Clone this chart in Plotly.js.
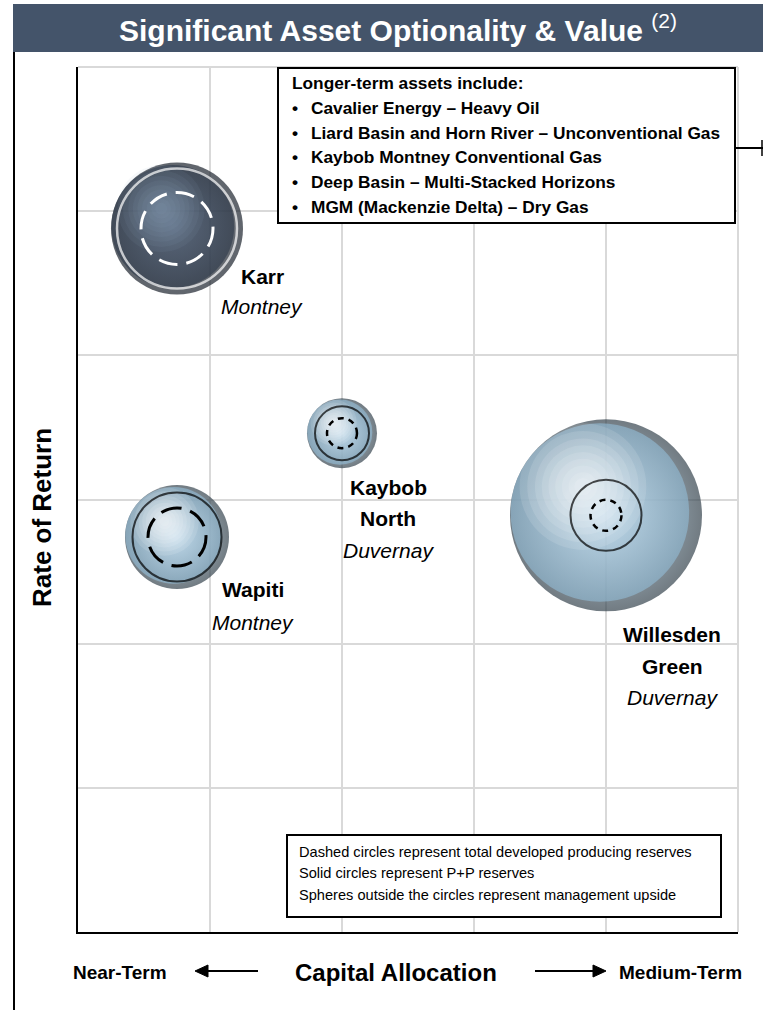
<!DOCTYPE html>
<html>
<head>
<meta charset="utf-8">
<script src="https://cdn.plot.ly/plotly-3.0.1.min.js"></script>
<style>
  html, body { margin: 0; padding: 0; background: #ffffff; }
  #chart { width: 763px; height: 1010px; }
</style>
</head>
<body>
<div id="chart"></div>
<script>
// ---------------- DATA ----------------
const assets = ['Karr', 'Kaybob North', 'Wapiti', 'Willesden Green'];
const plays = ['Montney', 'Duvernay', 'Montney', 'Duvernay'];
const capitalAllocation = [0.75, 2.0, 0.75, 4.0];   // x: near-term (0) -> medium-term (5)
const rateOfReturn = [4.88, 3.46, 2.74, 2.89];       // y
const upsideSize = [132, 70, 104, 192];              // sphere: management upside
const ppReserves = [120, 54, 89, 71];                // solid circle: P+P reserves
const pdpReserves = [72, 30, 58, 31];                // dashed circle: total developed producing
const longerTermTitle = 'Longer-term assets include:';
const longerTermAssets = [
  'Cavalier Energy \u2013 Heavy Oil',
  'Liard Basin and Horn River \u2013 Unconventional Gas',
  'Kaybob Montney Conventional Gas',
  'Deep Basin \u2013 Multi-Stacked Horizons',
  'MGM (Mackenzie Delta) \u2013 Dry Gas'
];
const legendNotes = [
  'Dashed circles represent total developed producing reserves',
  'Solid circles represent P+P reserves',
  'Spheres outside the circles represent management upside'
];

// ---------------- LAYOUT GEOMETRY ----------------
const W = 763, H = 1010;
const M = { l: 78, r: 25, t: 67, b: 78 };
const PW = W - M.l - M.r, PH = H - M.t - M.b;
const XR = [0, 5], YR = [0, 6];
const pxX = PW / (XR[1] - XR[0]), pxY = PH / (YR[1] - YR[0]);
const FONT = 'Liberation Sans, Arial, Helvetica, sans-serif';
const px = v => (v - M.l) / PW;
const py = v => (M.t + PH - v) / PH;

// styles (radial gradient: marker.color = edge, gradient.color = centre)
const dark = [true, false, false, false];
const rimEdge = dark.map(d => d ? '#1c232d' : '#35434d');
const rimCentre = dark.map(d => d ? '#3a4658' : '#a3c5da');
const bodyEdge = dark.map(d => d ? '#333e4e' : '#8fb5cd');
const bodyCentre = dark.map(d => d ? '#4d5d74' : '#c2dbec');
const hiColor = dark.map(d => d ? 'rgba(150,168,192,0.12)' : 'rgba(255,255,255,0.17)');
const ringColor = dark.map(d => d ? '#ffffff' : '#000000');
const ringWidth = dark.map(d => d ? 2.5 : 2);
const dashPattern = ['19px,9px', '6px,5px', '21px,9px', '6px,5px'];
const dashWidth = [3, 2.5, 3, 2.5];

const traces = [
  { // shaded rim
    type: 'scatter', mode: 'markers', x: capitalAllocation, y: rateOfReturn,
    hoverinfo: 'skip', showlegend: false,
    marker: { size: upsideSize, color: rimEdge, gradient: { type: 'radial', color: rimCentre }, line: { width: 0 } }
  },
  { // body
    type: 'scatter', mode: 'markers',
    x: capitalAllocation.map((v, i) => v - 0.032 * upsideSize[i] / pxX),
    y: rateOfReturn.map((v, i) => v + 0.015 * upsideSize[i] / pxY),
    hoverinfo: 'skip', showlegend: false,
    marker: { size: upsideSize.map(s => s * 0.93), color: bodyEdge, gradient: { type: 'radial', color: bodyCentre }, line: { width: 0 } }
  }
];
// soft specular highlight built from stacked translucent discs
[0.66, 0.58, 0.5, 0.43, 0.36, 0.29, 0.22, 0.15, 0.09].forEach(f => {
  traces.push({
    type: 'scatter', mode: 'markers',
    x: capitalAllocation.map((v, i) => v - 0.12 * upsideSize[i] / pxX),
    y: rateOfReturn.map((v, i) => v + 0.15 * upsideSize[i] / pxY),
    hoverinfo: 'skip', showlegend: false,
    marker: { size: upsideSize.map(s => s * f), color: hiColor, line: { width: 0 } }
  });
});
traces.push({ // P+P solid circles
  type: 'scatter', mode: 'markers', x: capitalAllocation, y: rateOfReturn,
  text: assets, hoverinfo: 'text', showlegend: false,
  marker: { size: ppReserves, color: 'rgba(0,0,0,0)', line: { color: ringColor, width: ringWidth } }
});

const shapes = [];
// dashed circles (PDP)
assets.forEach((a, i) => {
  const r = pdpReserves[i] / 2;
  shapes.push({
    type: 'circle', xref: 'x', yref: 'y', xsizemode: 'pixel', ysizemode: 'pixel',
    xanchor: capitalAllocation[i], yanchor: rateOfReturn[i],
    x0: -r, x1: r, y0: -r, y1: r,
    line: { color: ringColor[i], width: dashWidth[i], dash: dashPattern[i] }
  });
});
// title bar
shapes.push({ type: 'rect', xref: 'paper', yref: 'paper', x0: px(13), x1: px(763), y0: py(52), y1: py(4),
  fillcolor: '#44546a', line: { width: 0 }, layer: 'below' });
// outer frame left
shapes.push({ type: 'line', xref: 'paper', yref: 'paper', x0: px(14), x1: px(14), y0: py(52), y1: py(1012),
  line: { color: '#000', width: 2 } });
// top & right plot edges (grey)
shapes.push({ type: 'line', xref: 'paper', yref: 'paper', x0: 0, x1: 1, y0: 1, y1: 1, line: { color: '#d9d9d9', width: 2 }, layer: 'below' });
shapes.push({ type: 'line', xref: 'paper', yref: 'paper', x0: 1, x1: 1, y0: 0, y1: 1, line: { color: '#d9d9d9', width: 2 }, layer: 'below' });
// longer-term box
shapes.push({ type: 'rect', xref: 'paper', yref: 'paper', x0: px(278), x1: px(735), y0: py(223), y1: py(68),
  fillcolor: '#ffffff', line: { color: '#000', width: 2 } });
shapes.push({ type: 'line', xref: 'paper', yref: 'paper', x0: px(735), x1: px(764), y0: py(148), y1: py(148),
  line: { color: '#000', width: 2 } });
shapes.push({ type: 'line', xref: 'paper', yref: 'paper', x0: px(762), x1: px(762), y0: py(140), y1: py(156),
  line: { color: '#000', width: 1.5 } });
// legend box
shapes.push({ type: 'rect', xref: 'paper', yref: 'paper', x0: px(287), x1: px(721), y0: py(917), y1: py(835),
  fillcolor: '#ffffff', line: { color: '#000', width: 2 } });
// direction arrows along the x-axis title
const arrowY = 971;
const arrow = (tail, tip) => {
  const dir = Math.sign(tip - tail);
  const base = tip - dir * 13;
  shapes.push({ type: 'line', xref: 'paper', yref: 'paper', x0: px(tail), x1: px(base), y0: py(arrowY), y1: py(arrowY),
    line: { color: '#000', width: 2 } });
  shapes.push({ type: 'path', xref: 'paper', yref: 'paper',
    path: 'M' + px(tip) + ',' + py(arrowY) + ' L' + px(base) + ',' + py(arrowY - 6) + ' L' + px(base) + ',' + py(arrowY + 6) + ' Z',
    fillcolor: '#000', line: { color: '#000', width: 1 } });
};
arrow(258, 195);
arrow(535, 606);

const ann = [];
const A = (text, x, y, size, opts) => Object.assign({
  text, xref: 'paper', yref: 'paper', x: px(x), y: py(y), showarrow: false,
  xanchor: 'center', yanchor: 'middle', font: { family: FONT, size, color: '#000' }
}, opts || {});

// title
ann.push(A('<b>Significant Asset Optionality &amp; Value</b> <sup>(2)</sup>', 398, 28, 30, { font: { family: FONT, size: 30, color: '#ffffff' } }));
// axis titles
ann.push(A('<b>Rate of Return</b>', 42, 518, 26, { textangle: -90 }));
ann.push(A('<b>Capital Allocation</b>', 396, 972, 24));
ann.push(A('<b>Near-Term</b>', 120, 972, 19));
ann.push(A('<b>Medium-Term</b>', 680, 972, 19));

// longer-term box text
const boxY = [83, 108, 133, 157, 182, 207];
ann.push(A('<b>' + longerTermTitle + '</b>', 290, boxY[0], 17.3, { xanchor: 'left' }));
longerTermAssets.forEach((t, i) => {
  ann.push(A('<b>\u2022</b>', 290, boxY[i + 1], 17.3, { xanchor: 'left' }));
  ann.push(A('<b>' + t + '</b>', 309, boxY[i + 1], 17.3, { xanchor: 'left' }));
});
// legend notes
const noteY = [852, 873, 895];
legendNotes.forEach((t, i) => ann.push(A(t, 297, noteY[i], 14.6, { xanchor: 'left' })));

// asset labels
const labelPos = [
  { x: 262, y: [276, 306] },
  { x: 388, y: [487, 518, 550] },
  { x: 253, y: [589, 622] },
  { x: 672, y: [634, 666, 697] }
];
const nameLines = [['Karr'], ['Kaybob', 'North'], ['Wapiti'], ['Willesden', 'Green']];
assets.forEach((a, i) => {
  const lp = labelPos[i];
  nameLines[i].forEach((ln, k) => ann.push(A('<b>' + ln + '</b>', lp.x, lp.y[k], 21)));
  ann.push(A('<i>' + plays[i] + '</i>', lp.x, lp.y[nameLines[i].length], 21));
});

const axisCommon = {
  showgrid: true, gridcolor: '#d9d9d9', gridwidth: 2, zeroline: false,
  showticklabels: false, ticks: '', tick0: 0, dtick: 1,
  showline: true, linecolor: '#000', linewidth: 2, fixedrange: true
};

const layout = {
  width: W, height: H, margin: M,
  paper_bgcolor: '#ffffff', plot_bgcolor: '#ffffff',
  xaxis: Object.assign({ range: XR }, axisCommon),
  yaxis: Object.assign({ range: YR }, axisCommon),
  shapes, annotations: ann, showlegend: false,
  font: { family: FONT }
};

Plotly.newPlot('chart', traces, layout, { displayModeBar: false, staticPlot: true });
</script>
</body>
</html>
